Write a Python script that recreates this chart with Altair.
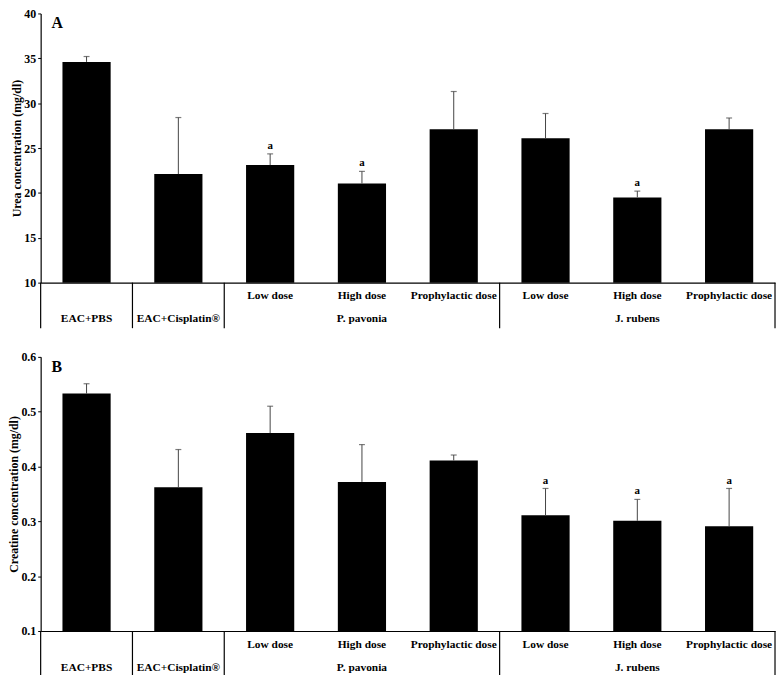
import altair as alt
import pandas as pd

FONT = "Liberation Serif"

ids = ["c1", "c2", "c3", "c4", "c5", "c6", "c7", "c8"]
doses = ["", "", "Low dose", "High dose", "Prophylactic dose", "Low dose", "High dose", "Prophylactic dose"]
groups = ["EAC+PBS", "EAC+Cisplatin®", "", "P. pavonia", "", "", "J. rubens", ""]

urea_mean = [34.6, 22.1, 23.1, 21.05, 27.1, 26.1, 19.5, 27.1]
urea_upper = [35.2, 28.4, 24.35, 22.4, 31.3, 28.85, 20.2, 28.35]
urea_sig = ["", "", "a", "a", "", "", "a", ""]

creat_mean = [0.533, 0.362, 0.461, 0.372, 0.411, 0.311, 0.301, 0.291]
creat_upper = [0.551, 0.431, 0.51, 0.44, 0.421, 0.36, 0.34, 0.36]
creat_sig = ["", "", "", "", "", "a", "a", "a"]

urea_ticks = [10, 15, 20, 25, 30, 35, 40]
creat_ticks = [0.1, 0.2, 0.3, 0.4, 0.5, 0.6]

W = 742


def panel(mean, upper, sig, ytitle, domain, ticks, fmt, letter, H):
    df = pd.DataFrame(dict(id=ids, dose=doses, group=groups, mean=mean, upper=upper, sig=sig))
    xaxis = alt.Axis(labels=False, ticks=False, title=None, domainColor="black", domainWidth=1.2)
    x = alt.X("id:N", sort=ids, scale=alt.Scale(paddingInner=0, paddingOuter=0), axis=xaxis)
    yscale = alt.Scale(domain=domain, nice=False, zero=False)
    yaxis = alt.Axis(values=ticks, format=fmt, title=ytitle, grid=False, domainColor="black",
                     domainWidth=1.2, tickColor="black", tickSize=3, labelPadding=2, titlePadding=0,
                     labelFontSize=12, titleFontSize=12)

    def Y(f):
        return alt.Y(f + ":Q", scale=yscale, axis=yaxis)

    base = alt.Chart(df)
    bars = base.mark_bar(color="black", width=alt.RelativeBandSize(0.525)).encode(
        x=x, y=Y("mean"), y2=alt.datum(domain[0]))
    err = base.mark_rule(color="#444", strokeWidth=1).encode(x=x, y=Y("mean"), y2="upper:Q")
    cap = base.mark_tick(color="#444", size=6, thickness=1.2).encode(x=x, y=Y("upper"))
    sigt = base.transform_filter("datum.sig != ''").mark_text(
        font=FONT, fontWeight="bold", fontSize=11, baseline="bottom", dy=-3, color="black"
    ).encode(x=x, y=Y("upper"), text="sig:N")
    lab1 = base.transform_filter("datum.dose != ''").mark_text(
        font=FONT, fontWeight="bold", fontSize=11.5, baseline="middle", color="black"
    ).encode(x=x, y=alt.value(H + 14), text="dose:N")
    lab2 = base.transform_filter("datum.group != ''").mark_text(
        font=FONT, fontWeight="bold", fontSize=11.5, baseline="middle", color="black"
    ).encode(x=x, y=alt.value(H + 37), text="group:N")
    sepL = base.transform_filter(alt.FieldOneOfPredicate(field="id", oneOf=["c1", "c2", "c3", "c6"])).mark_rule(
        color="black", strokeWidth=1.2
    ).encode(x=alt.X("id:N", sort=ids, bandPosition=0), y=alt.value(H), y2=alt.value(H + 46))
    sepR = base.transform_filter(alt.FieldOneOfPredicate(field="id", oneOf=["c8"])).mark_rule(
        color="black", strokeWidth=1.2
    ).encode(x=alt.X("id:N", sort=ids, bandPosition=1), y=alt.value(H), y2=alt.value(H + 46))
    let = alt.Chart(pd.DataFrame({"t": [letter]})).mark_text(
        font=FONT, fontWeight="bold", fontSize=16, align="left", baseline="top", color="black"
    ).encode(x=alt.value(11), y=alt.value(2), text="t:N")
    return alt.layer(bars, err, cap, sigt, lab1, lab2, sepL, sepR, let).properties(width=W, height=H)


top = panel(urea_mean, urea_upper, urea_sig, "Urea concentration (mg/dl)", [10, 40], urea_ticks, "d", "A", 272)
bottom = panel(creat_mean, creat_upper, creat_sig, "Creatine concentration (mg/dl)", [0.1, 0.6], creat_ticks, ".1f", "B", 277)

chart = alt.vconcat(top, bottom, spacing=22).properties(
    padding={"left": 0, "top": -4, "right": 0, "bottom": 0}
).configure_view(stroke=None).configure_axis(
    labelFont=FONT, titleFont=FONT, labelFontWeight="bold", titleFontWeight="bold",
    labelColor="black", titleColor="black"
)

chart.save("out.html", embed_options={"renderer": "svg", "actions": False})
